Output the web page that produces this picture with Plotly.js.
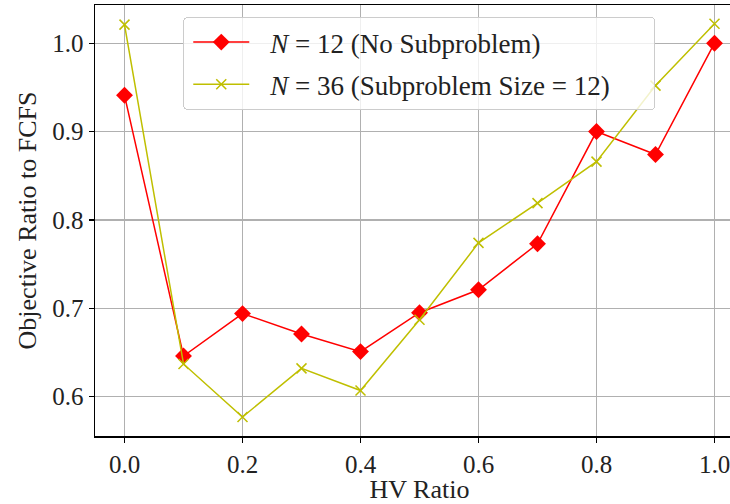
<!DOCTYPE html>
<html>
<head>
<meta charset="utf-8">
<script src="https://cdn.plot.ly/plotly-3.0.1.min.js"></script>
<style>
html,body{margin:0;padding:0;overflow:hidden;background:#fff;width:730px;height:504px;}
#chart{width:760px;height:504px;}
</style>
</head>
<body>
<div id="chart"></div>
<script>
const hvRatio = [0.0, 0.1, 0.2, 0.3, 0.4, 0.5, 0.6, 0.7, 0.8, 0.9, 1.0];
const n12 = [0.941, 0.646, 0.694, 0.671, 0.651, 0.695, 0.721, 0.773, 0.900, 0.874, 1.000];
const n36 = [1.021, 0.637, 0.577, 0.632, 0.607, 0.687, 0.774, 0.819, 0.866, 0.952, 1.022];
const seriesNames = ["<i>N</i> = 12 (No Subproblem)", "<i>N</i> = 36 (Subproblem Size = 12)"];
const xTicks = [0.0, 0.2, 0.4, 0.6, 0.8, 1.0];
const xTickText = ["0.0", "0.2", "0.4", "0.6", "0.8", "1.0"];
const yTicks = [0.6, 0.7, 0.8, 0.9, 1.0];
const yTickText = ["0.6", "0.7", "0.8", "0.9", "1.0"];

const FONT = "'Liberation Serif', 'DejaVu Serif', serif";

const traces = [
  {
    x: hvRatio, y: n12, name: seriesNames[0], type: "scatter", mode: "lines+markers",
    legendgroup: "a",
    line: {color: "#ff0000", width: 1.5},
    marker: {symbol: "diamond", size: 13, color: "#ff0000"}
  },
  {
    x: hvRatio, y: n36, name: seriesNames[1], type: "scatter", mode: "lines+markers",
    legendgroup: "b",
    line: {color: "#bfbf00", width: 1.5},
    marker: {symbol: "x-thin-open", size: 10, color: "#bfbf00", line: {color: "#bfbf00", width: 1.5}}
  }
];

const layout = {
  width: 760, height: 504,
  margin: {l: 95, r: 16, t: 5, b: 68},
  paper_bgcolor: "#ffffff", plot_bgcolor: "#ffffff",
  font: {family: FONT, size: 25, color: "#222"},
  showlegend: true,
  legend: {
    x: 0.136, y: 0.972, xanchor: "left", yanchor: "top",
    bgcolor: "rgba(255,255,255,0.8)", bordercolor: "#cccccc", borderwidth: 1,
    font: {family: FONT, size: 27, color: "#222"},
    tracegroupgap: 4, itemwidth: 76
  },
  xaxis: {
    range: [-0.05, 1.05], tickvals: xTicks, ticktext: xTickText,
    showgrid: true, gridcolor: "#b0b0b0", gridwidth: 1.2,
    showline: true, linecolor: "#000", linewidth: 1.5, mirror: true,
    ticks: "outside", ticklen: 5, tickwidth: 1.2, tickcolor: "#000",
    tickfont: {family: FONT, size: 25, color: "#222"},
    zeroline: false,
    title: {text: "HV Ratio", font: {family: FONT, size: 26, color: "#222"}, standoff: 2}
  },
  yaxis: {
    range: [0.5555, 1.0432], tickvals: yTicks, ticktext: yTickText,
    showgrid: true, gridcolor: "#b0b0b0", gridwidth: 1.2,
    showline: true, linecolor: "#000", linewidth: 1.5, mirror: true,
    ticks: "outside", ticklen: 5, tickwidth: 1.2, tickcolor: "#000",
    tickfont: {family: FONT, size: 25, color: "#222"},
    zeroline: false,
    title: {text: "Objective Ratio to FCFS", font: {family: FONT, size: 26, color: "#222"}, standoff: 8}
  }
};

Plotly.newPlot("chart", traces, layout, {displayModeBar: false, staticPlot: true}).then(function (gd) {
  // lengthen the legend line samples (matplotlib-style handles)
  gd.querySelectorAll(".legend .legendlines path").forEach(function (p) {
    p.setAttribute("d", "M9,0h56");
  });
  gd.querySelectorAll(".legend .legendpoints path").forEach(function (p) {
    p.setAttribute("transform", "translate(37,0)");
  });
  // widen the legend frame a little and round its corners
  gd.querySelectorAll(".legend rect.bg").forEach(function (r) {
    r.setAttribute("width", "471");
    r.setAttribute("rx", "4");
    r.setAttribute("ry", "4");
  });
});
</script>
</body>
</html>
